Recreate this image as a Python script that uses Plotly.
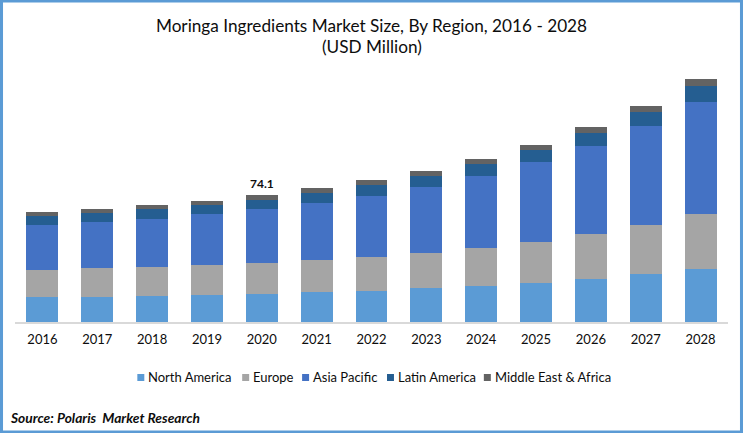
import plotly.graph_objects as go

FONT = "Lato"
W, H = 743, 433
TOP, BASE = 60, 322  # pixel rows of the plot area
INK = "#0D0D0D"


def px_x(x):
    return (x - 14.5) / (W - 29)


def px_y(y):
    return (BASE - y) / (BASE - TOP)


years = ["2016", "2017", "2018", "2019", "2020", "2021", "2022", "2023", "2024", "2025", "2026", "2027", "2028"]
north_america = [14.6, 14.6, 15.2, 15.8, 16.3, 17.5, 18.1, 19.8, 21.0, 22.8, 25.1, 28.0, 30.9]
europe = [15.8, 16.9, 16.9, 17.5, 18.1, 18.7, 19.8, 20.4, 22.2, 23.9, 26.3, 28.6, 32.1]
asia_pacific = [26.3, 26.8, 28.0, 29.8, 31.5, 33.3, 35.6, 38.5, 42.0, 46.7, 51.3, 57.8, 65.4]
latin_america = [5.3, 5.3, 5.8, 5.3, 5.3, 5.8, 6.4, 6.4, 7.0, 7.0, 7.6, 8.2, 9.3]
mea = [2.3, 2.3, 2.3, 2.3, 2.9, 2.9, 2.9, 2.9, 2.9, 2.9, 3.5, 3.5, 4.1]

names = ["North America", "Europe", "Asia Pacific", "Latin America", "Middle East & Africa"]
colors = ["#5B9BD5", "#A5A5A5", "#4472C4", "#255E91", "#636363"]
series = [north_america, europe, asia_pacific, latin_america, mea]

fig = go.Figure()
for name, color, vals in zip(names, colors, series):
    fig.add_trace(go.Bar(x=years, y=vals, name=name, marker_color=color, marker_line_width=0))

fig.update_layout(
    width=W, height=H,
    barmode="stack", bargap=0.417,
    showlegend=False,
    paper_bgcolor="white", plot_bgcolor="white",
    font=dict(family=FONT, color=INK),
    margin=dict(l=14.5, r=14.5, t=TOP, b=H - BASE, autoexpand=False),
    title=dict(text="Moringa Ingredients Market Size, By Region, 2016 - 2028",
               x=0.5, xanchor="center", y=1 - 26 / H, yanchor="middle",
               font=dict(family=FONT, size=17.2, color=INK)),
)
fig.update_xaxes(type="category", range=[-0.5, 12.5], showline=True, linecolor="#D9D9D9", linewidth=1.5,
                 ticks="", tickfont=dict(family=FONT, size=13, color=INK), ticklabelstandoff=5)
fig.update_yaxes(visible=False, range=[0, 152.9])

# second title line
fig.add_annotation(text="(USD Million)", xref="paper", yref="paper", x=0.5, y=px_y(46),
                   showarrow=False, font=dict(family=FONT, size=17.2, color=INK), yanchor="middle")

# value label on 2020 (category axes take the index here, not the label)
i_2020 = years.index("2020")
total_2020 = sum(s[i_2020] for s in series)
fig.add_annotation(text="<b>%.1f</b>" % total_2020, x=i_2020, y=total_2020, yshift=12, showarrow=False,
                   font=dict(family=FONT, size=12, color=INK))

# legend row, squares closer to the text than plotly's own legend allows
swatch_x = [137, 242, 302, 387, 484]
for sx, name, color in zip(swatch_x, names, colors):
    fig.add_shape(type="rect", xref="paper", yref="paper", layer="above",
                  x0=px_x(sx), x1=px_x(sx + 7), y0=px_y(381), y1=px_y(374),
                  fillcolor=color, line_width=0)
    fig.add_annotation(text=name, xref="paper", yref="paper", x=px_x(sx + 11),
                       y=px_y(377), xanchor="left", yanchor="middle", showarrow=False, xshift=-2,
                       font=dict(family=FONT, size=13, color=INK))

fig.add_annotation(text="<b><i>Source: Polaris  Market Research</i></b>", xref="paper", yref="paper",
                   x=px_x(11), y=px_y(417), xanchor="left", yanchor="middle", xshift=-4,
                   showarrow=False, font=dict(family=FONT, size=13.8, color=INK))

# blue frame round the whole picture
fig.add_shape(type="rect", xref="paper", yref="paper", layer="above",
              x0=px_x(0), x1=px_x(W), y0=px_y(H), y1=px_y(0),
              line=dict(color="#5B9BD5", width=5))

fig.write_html("out.html", config={"displayModeBar": False},
               post_script="document.body.style.margin = '0';")
